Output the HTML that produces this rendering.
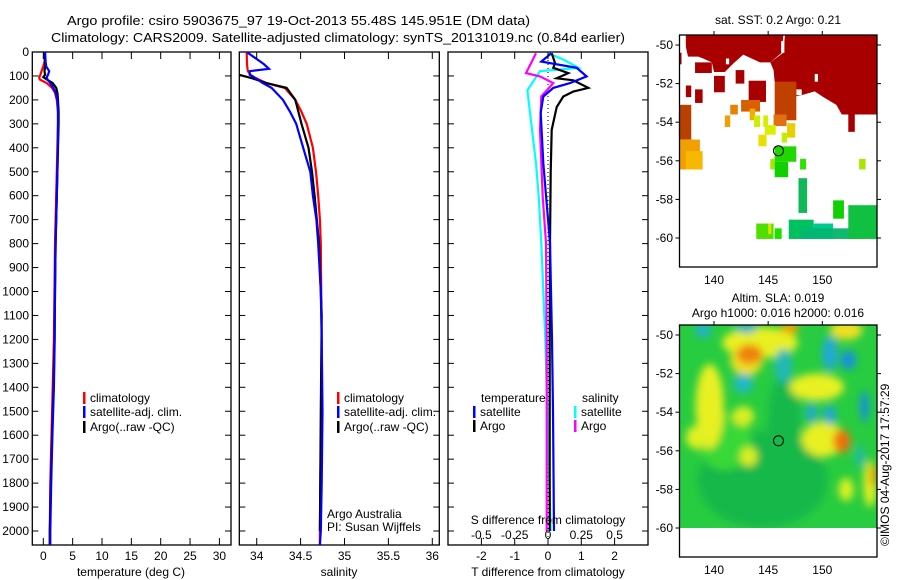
<!DOCTYPE html>
<html><head><meta charset="utf-8"><style>
html,body{margin:0;padding:0;background:#fff;}
svg{display:block;font-family:"Liberation Sans",sans-serif;}
</style></head><body>
<svg id="fig" width="900" height="580" viewBox="0 0 900 580" xmlns="http://www.w3.org/2000/svg">
<defs>
<clipPath id="c1"><rect x="32" y="52" width="199" height="493"/></clipPath>
<clipPath id="c2"><rect x="239" y="52" width="200" height="493"/></clipPath>
<clipPath id="c3"><rect x="448" y="52" width="200" height="493"/></clipPath>
<clipPath id="cm1"><rect x="679.5" y="35" width="197.5" height="232"/></clipPath>
<clipPath id="cm2"><rect x="679.5" y="325" width="197.5" height="203"/></clipPath>
<filter id="blur" x="-20%" y="-20%" width="140%" height="140%"><feGaussianBlur stdDeviation="4"/></filter>
</defs>
<text x="67" y="25" font-size="13" textLength="463" lengthAdjust="spacingAndGlyphs">Argo profile: csiro 5903675_97 19-Oct-2013 55.48S 145.951E (DM data)</text>
<text x="51" y="42" font-size="13" textLength="574" lengthAdjust="spacingAndGlyphs">Climatology: CARS2009. Satellite-adjusted climatology: synTS_20131019.nc (0.84d earlier)</text>
<g id="g"></g>
<text font-size="12" transform="translate(889,546) rotate(-90)">©IMOS 04-Aug-2017 17:57:29</text>
</svg>
<script>
// ---------- data ----------
const depthTicks = [0,100,200,300,400,500,600,700,800,900,1000,1100,1200,1300,1400,1500,1600,1700,1800,1900,2000];
const tempTicks = [0,5,10,15,20,25,30];
const salTicks = [34,34.5,35,35.5,36];
const tdiffTicks = [-2,-1,0,1,2];
const sdiffTicks = [-0.5,-0.25,0,0.25,0.5];
const sdiffTickLabels = ["-0.5","-0.25","0","0.25","0.5"];
const lonTicks = [140,145,150];
const latTicks = [-50,-52,-54,-56,-58,-60];

const tempDepth = [0,40,60,80,95,105,115,130,150,170,200,250,300,400,500,600,800,1000,1200,1400,1600,1800,2000,2060];
const tempClim  = [0.3,0.2,0,-0.3,-0.5,-0.7,-0.6,0.6,1.5,2.0,2.3,2.5,2.5,2.4,2.3,2.2,2.0,1.9,1.8,1.6,1.4,1.2,1.1,1.1];
const tempSat   = [0.3,0.4,0.5,1.0,0.8,0.6,0.7,1.2,1.7,2.1,2.4,2.5,2.5,2.45,2.4,2.3,2.1,2.0,1.95,1.8,1.55,1.35,1.2,1.2];
const tempArgo  = [0.2,0.3,0.3,0.2,0.3,0.0,0.6,1.6,2.2,2.4,2.5,2.6,2.6,2.5,2.4,2.3,2.1,2.0,1.9,1.75,1.5,1.3,1.1,1.1];

const salDepth = [0,50,70,80,95,100,130,150,200,250,300,400,500,600,700,800,1000,1200,1500,1800,2000,2060];
const salClim  = [33.886,33.89,33.895,33.9,33.93,33.94,34.11,34.32,34.44,34.51,34.57,34.64,34.675,34.70,34.72,34.73,34.735,34.74,34.735,34.725,34.72,34.72];
const salSat   = [33.886,34.08,34.14,33.92,33.92,33.95,34.07,34.17,34.30,34.38,34.45,34.53,34.61,34.64,34.68,34.70,34.73,34.74,34.75,34.74,34.73,34.72];
const salArgoDepth = [95,110,130,150,200,300,400,500,600,800,1100,1500,2000];
const salArgo = [33.80,33.95,34.11,34.34,34.44,34.51,34.59,34.63,34.66,34.71,34.74,34.73,34.72];

const dTArgoDepth = [5,46,66,88,110,118,150,165,186,230,325,500,797,1200,1600,2000];
const dTArgo = [0.11,0.21,0.16,0.61,0.26,0.76,1.21,0.76,0.46,0.26,0.11,0.08,0.06,0.05,0.05,0.05];
const dTSatDepth = [5,40,66,102,130,150,186,254,464,797,1200,1500,2000];
const dTSat = [0.10,-0.2,0.86,1.16,0.66,0.16,-0.14,-0.22,-0.14,0.06,0.12,0.15,0.18];
const dSArgoDepth = [5,88,102,130,186,325,604,797,1200,2000];
const dSArgo = [-0.09,-0.165,-0.06,0.04,-0.05,-0.06,-0.04,-0.015,-0.01,-0.01];
const dSSatDepth = [5,33,66,80,160,254,464,604,797,1200,2000];
const dSSat = [0.0,0.12,0.23,-0.06,-0.155,-0.135,-0.09,-0.07,-0.05,-0.02,0.02];

// SST map patches [lon1,lat1,lon2,lat2,color]
const sstPatches = [
 [138.25,-50.9,139.8,-51.45,"#a80000"],[140.0,-51.6,141.0,-52.45,"#a80000"],[142.0,-51.3,142.8,-52.0,"#a80000"],
 [143.2,-51.85,144.8,-52.95,"#a80000"],[137.4,-52.1,137.9,-52.7,"#a80000"],[138.25,-52.3,138.95,-53.0,"#a80000"],
 [136.8,-50.4,137.0,-51.0,"#a80000"],[152.4,-53.6,153.0,-54.5,"#a80000"],
 [145.6,-51.9,147.6,-53.9,"#c04000"],[136.8,-53.1,137.9,-54.9,"#b84000"],[136.8,-54.9,138.7,-56.45,"#f0a000"],
 [137.4,-55.5,138.95,-56.45,"#f8b800"],[141.5,-53.1,142.2,-53.6,"#e88000"],[141.0,-53.65,141.5,-54.25,"#f0a000"],
 [142.5,-52.85,144.25,-53.45,"#d86000"],[143.3,-53.3,143.8,-53.9,"#f0b000"],[145.5,-53.6,146.7,-54.2,"#e07010"],
 [143.7,-53.65,144.25,-54.25,"#c8f000"],[144.55,-53.65,145.0,-54.25,"#d0f000"],[144.7,-54.15,145.7,-54.65,"#d8f000"],
 [144.1,-54.65,144.85,-55.25,"#e8e000"],[146.25,-54.55,146.75,-55.05,"#c0f000"],[146.75,-54.05,147.5,-54.8,"#e8d000"],
 [145.6,-55.25,147.6,-56.05,"#20d800"],[145.6,-56.05,146.85,-56.85,"#10d000"],[145.2,-55.9,145.6,-56.45,"#a0e800"],
 [147.95,-55.9,148.5,-56.45,"#30e000"],[153.4,-55.9,154.0,-56.45,"#a8e800"],[147.8,-56.9,148.6,-58.7,"#10b858"],
 [151.0,-58.05,152.0,-59.0,"#10d000"],[146.9,-59.05,149.2,-60.05,"#00c060"],[149.2,-59.25,151.0,-59.65,"#00c890"],
 [148.0,-59.5,151.0,-60.05,"#00b870"],[150.9,-59.5,153.5,-60.05,"#10b870"],[152.4,-58.3,155.1,-60.05,"#10c040"],
 [143.9,-59.25,145.5,-60.05,"#50e000"],[145.6,-59.5,146.25,-60.05,"#20e000"],[145.0,-59.25,145.3,-59.8,"#e0e000"]
];
const sstRedMain = [[146.55,-49.5],[155.1,-49.5],[155.1,-53.6],[151.8,-53.6],[151.3,-53.1],[150.1,-52.7],[149.3,-52.4],[148.1,-52.6],[147.2,-52.7],[146.7,-52.25],[145.6,-51.9],[145.5,-51.3],[145.2,-50.9],[146.4,-50.4]];
const sstRedTop = [[137.4,-49.5],[146.4,-49.5],[146.25,-50.4],[145.2,-50.9],[144.25,-50.9],[142.7,-50.5],[141.8,-50.95],[141.0,-51.4],[140.0,-51.4],[139.8,-50.9],[139.0,-50.7],[138.55,-50.6],[137.6,-50.6],[137.4,-50.1]];
const sstHoles = [[146.2,-49.8,146.5,-50.4],[149.3,-51.5,149.6,-51.9],[147.6,-52.3,148.1,-52.6],[141.1,-50.7,141.4,-51.0]];
// SLA blobs [lon,lat,rlon,rlat,color]
const slaBlobs = [
 [144.5,-57.5,6,2.5,"#18b848"],[141.0,-55.5,2.5,1.5,"#38d838"],[146.5,-54.5,1.5,2.5,"#18b848"],
 [139.6,-53.7,1.3,2.2,"#e8f020"],[144.25,-50.4,3.5,0.8,"#e8f020"],[143.0,-51.3,1.5,0.8,"#f0e020"],
 [149.5,-52.7,2.5,0.7,"#e8f020"],[150.1,-55.4,2.0,0.9,"#e8f020"],[154.4,-57.7,0.6,1.2,"#e8f020"],
 [138.4,-55.3,1.0,0.6,"#e0f020"],[143.2,-56.3,0.8,0.5,"#d8f020"],[152.2,-58.0,0.7,0.6,"#d8f020"],
 [142.7,-54.2,1.0,0.5,"#d8f020"],[152.2,-49.75,1.5,0.5,"#f0e020"],
 [143.3,-51.0,1.2,0.5,"#f08010"],[151.8,-55.5,0.8,0.6,"#f07010"],[147.0,-49.65,0.8,0.3,"#f8a000"],[154.7,-57.3,0.3,0.6,"#f09000"],
 [139.0,-49.75,0.7,0.4,"#20b0d0"],[142.7,-52.5,0.9,0.5,"#20b8c8"],[146.4,-51.6,0.8,0.9,"#20b8b8"],
 [150.7,-50.95,0.7,0.9,"#20a8d8"],[152.4,-51.3,0.7,0.5,"#1890e0"],[149.0,-54.05,0.5,0.5,"#20a8d0"],
 [150.7,-54.15,0.6,0.5,"#20a8d0"],[153.9,-53.7,0.4,0.8,"#1890e0"],[153.5,-56.3,0.4,0.6,"#20b8b0"],[143.0,-49.6,1.0,0.3,"#20b0c0"]
];
const argoPos = [145.951,-55.48];

// ---------- scales ----------
const NS="http://www.w3.org/2000/svg";
const g=document.getElementById('g');
const yD=d=>52+d*0.2395;
const xT=t=>43.3+t*5.87;
const xS=s=>256.7+(s-34)*87.8;
const xDT=t=>548+t*33.3;
const xDS=s=>548+s*133.2;
const mLon=l=>714+(l-140)*10.83;
const m1Lat=a=>45+(-50-a)*19.3;
const m2Lat=a=>335+(-50-a)*19.3;
function el(tag,attrs,parent){const e=document.createElementNS(NS,tag);for(const k in attrs)e.setAttribute(k,attrs[k]);(parent||g).appendChild(e);return e;}
function txt(x,y,s,attrs,parent){const e=el('text',Object.assign({x:x,y:y,'font-size':12},attrs||{}),parent);e.textContent=s;return e;}

function panel(name,x0,x1,clip){
  const f=el('rect',{x:x0,y:52,width:x1-x0,height:493,fill:'none',stroke:'#000','stroke-width':1.3});
  
  
  const gg=el('g',{'clip-path':'url(#'+clip+')'});
  
  
  depthTicks.forEach(d=>{
    el('line',{x1:x0,x2:x0+6,y1:yD(d),y2:yD(d),stroke:'#000'});
    el('line',{x1:x1,x2:x1-6,y1:yD(d),y2:yD(d),stroke:'#000'});
  });
  return gg;
}
function xticks(xs,vals,labels,fn){
  vals.forEach((v,i)=>{
    const x=fn(v);
    el('line',{x1:x,x2:x,y1:545,y2:538,stroke:'#000'});
    el('line',{x1:x,x2:x,y1:52,y2:59,stroke:'#000'});
    if(labels){const t=txt(x,560,labels[i],{'text-anchor':'middle'});
      
      }
  });
}
function line(parent,depths,vals,fx,color,name,w){
  const pts=depths.map((d,i)=>fx(vals[i]).toFixed(1)+','+yD(d).toFixed(1)).join(' ');
  const p=el('polyline',{points:pts,fill:'none',stroke:color,'stroke-width':w||2.2,'stroke-linejoin':'miter'},parent);
  
  
}
function legend(x,y,color,label){
  el('rect',{x:x,y:y-10,width:2.5,height:12,fill:color});
  const t=txt(x+7,y,label);
  
  
}

depthTicks.forEach(d=>{const t=txt(29,yD(d)+4,String(d),{'text-anchor':'end'});
  
  });

const p1=panel('temperature-panel',32.3,231,'c1');
xticks(null,tempTicks,tempTicks.map(String),xT);
line(p1,tempDepth,tempClim,xT,'#ff0000','temp-climatology-line');
line(p1,tempDepth,tempArgo,xT,'#000000','temp-argo-line');
line(p1,tempDepth,tempSat,xT,'#0000ff','temp-satellite-line');
let t=txt(131,576,'temperature (deg C)',{'text-anchor':'middle'});

legend(83,402,'#ff0000','climatology');legend(83,416,'#0000ff','satellite-adj. clim.');legend(83,431,'#000000','Argo(..raw -QC)');

const p2=panel('salinity-panel',239.3,439.3,'c2');
xticks(null,salTicks,salTicks.map(String),xS);
line(p2,salDepth,salClim,xS,'#ff0000','sal-climatology-line');
line(p2,salArgoDepth,salArgo,xS,'#000000','sal-argo-line');
line(p2,salDepth,salSat,xS,'#0000ff','sal-satellite-line');
t=txt(339,576,'salinity',{'text-anchor':'middle'});

legend(337,402,'#ff0000','climatology');legend(337,416,'#0000ff','satellite-adj. clim.');legend(337,431,'#000000','Argo(..raw -QC)');
t=txt(327,518,'Argo Australia');
t=txt(327,531,'PI: Susan Wijffels');

const p3=panel('difference-panel',448,648,'c3');
xticks(null,tdiffTicks,tdiffTicks.map(String),xDT);
el('line',{x1:xDT(0),x2:xDT(0),y1:52,y2:545,stroke:'#000','stroke-dasharray':'1,3'},p3);
line(p3,dSSatDepth,dSSat,xDS,'#00ffff','sdiff-satellite-line');
line(p3,dSArgoDepth,dSArgo,xDS,'#ff00ff','sdiff-argo-line');
line(p3,dTArgoDepth,dTArgo,xDT,'#000000','tdiff-argo-line');
line(p3,dTSatDepth,dTSat,xDT,'#0000ff','tdiff-satellite-line');
sdiffTicks.forEach((v,i)=>{const tt=txt(xDS(v),539,sdiffTickLabels[i],{'text-anchor':'middle'});
  });
t=txt(548,524,'S difference from climatology',{'text-anchor':'middle'});

t=txt(548,576,'T difference from climatology',{'text-anchor':'middle'});

t=txt(481,402,'temperature');
t=txt(582,402,'salinity');
legend(473,416,'#0000ff','satellite');legend(473,430,'#000000','Argo');
legend(574,416,'#00ffff','satellite');legend(574,430,'#ff00ff','Argo');

function mapFrame(name,top,bottom,latFn,title1,title2){
  const f=el('rect',{x:679.5,y:top,width:197.5,height:bottom-top,fill:'none',stroke:'#000','stroke-width':1.3});
  
  lonTicks.forEach(l=>{const x=mLon(l);
    el('line',{x1:x,x2:x,y1:top,y2:top-4,stroke:'#000'});
    const tt=txt(x,bottom+17,String(l),{'text-anchor':'middle'});
    });
  latTicks.forEach(a=>{const y=latFn(a);
    el('line',{x1:679.5,x2:675.5,y1:y,y2:y,stroke:'#000'});
    el('line',{x1:877,x2:881,y1:y,y2:y,stroke:'#000'});
    const tt=txt(673,y+4,String(a),{'text-anchor':'end'});
    });
  let a=txt(778,title2?top-23:top-11,title1,{'text-anchor':'middle'});
  
  if(title2){a=txt(778,top-8,title2,{'text-anchor':'middle'});
    }
}
const m1=el('g',{'clip-path':'url(#cm1)'});

el('rect',{x:679.5,y:35,width:197.5,height:232,fill:'#fff'},m1);
[sstRedMain,sstRedTop].forEach(poly=>{
  const p=el('polygon',{points:poly.map(q=>mLon(q[0])+','+m1Lat(q[1])).join(' '),fill:'#a80000'},m1);
  
});
sstHoles.forEach(h=>el('rect',{x:mLon(h[0]),y:m1Lat(h[1]),width:mLon(h[2])-mLon(h[0]),height:m1Lat(h[3])-m1Lat(h[1]),fill:'#fff'},m1));
sstPatches.forEach(p=>{
  const r=el('rect',{x:mLon(p[0]),y:m1Lat(p[1]),width:mLon(p[2])-mLon(p[0]),height:m1Lat(p[3])-m1Lat(p[1]),fill:p[4]},m1);
  
});
let c=el('circle',{cx:mLon(argoPos[0]),cy:m1Lat(argoPos[1]),r:5,fill:'none',stroke:'#000','stroke-width':1});

mapFrame('sst-map',35,267,m1Lat,'sat. SST: 0.2 Argo: 0.21');

const m2=el('g',{'clip-path':'url(#cm2)'});

el('rect',{x:679.5,y:325,width:197.5,height:203,fill:'#28cc40'},m2);
const bl=el('g',{filter:'url(#blur)'},m2);
slaBlobs.forEach(b=>{
  const e=el('ellipse',{cx:mLon(b[0]),cy:m2Lat(b[1]),rx:b[2]*10.83,ry:b[3]*19.3,fill:b[4]},bl);
  
});
c=el('circle',{cx:mLon(argoPos[0]),cy:m2Lat(argoPos[1]),r:5,fill:'none',stroke:'#000','stroke-width':1});

mapFrame('sla-map',325,557,m2Lat,'Altim. SLA: 0.019','Argo h1000: 0.016 h2000: 0.016');
</script>
</body></html>
